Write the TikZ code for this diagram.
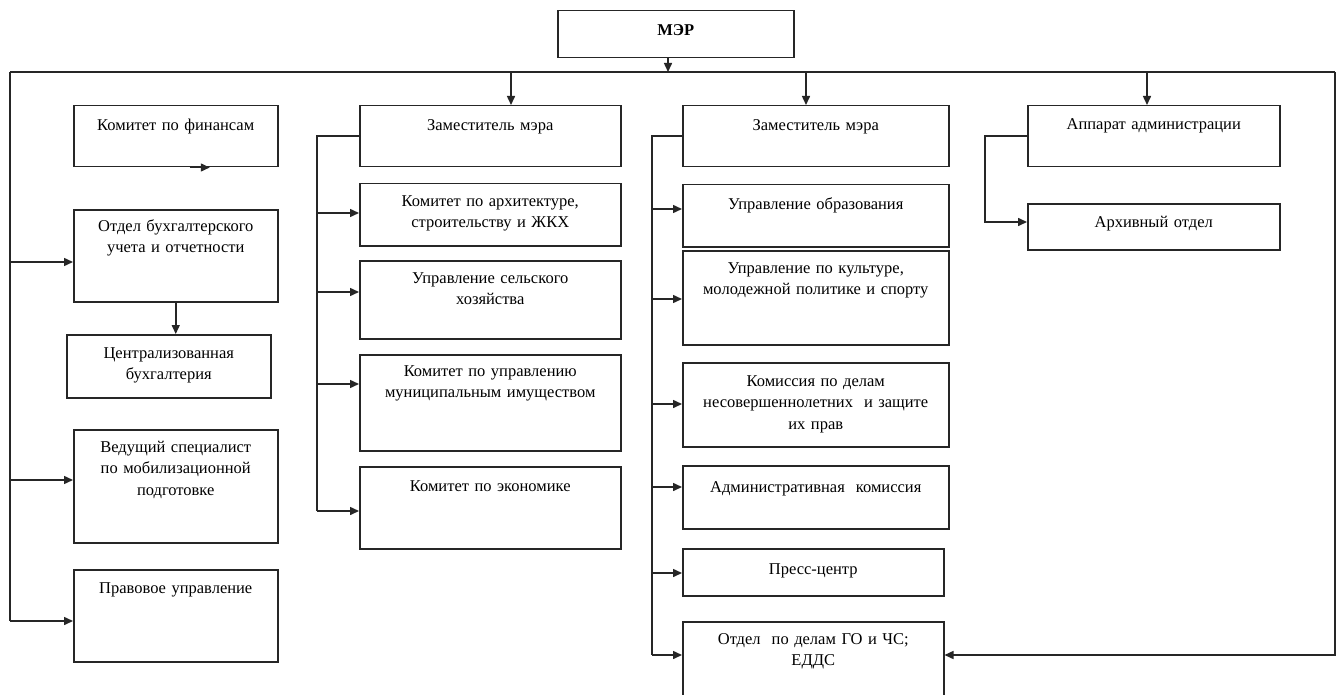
\documentclass[tikz,border=0pt]{standalone}
\usepackage{fontspec}
\setmainfont{Liberation Serif}
\usetikzlibrary{arrows.meta}
\tikzset{
  box/.style={draw=black!85, line width=1.5pt, rectangle, inner sep=0pt},
  lbl/.style={inner sep=0pt, align=center, text width=256pt, font=\fontsize{16.5}{21.5}\selectfont},
  arr/.style={draw=black!85, line width=1.5pt, -{Triangle[length=9pt,width=8pt]}},
  ln/.style={draw=black!85, line width=1.5pt}
}
\newcommand\orgbox[7]{%
  \node[box, minimum width=#4pt-#2pt, minimum height=#5pt-#3pt, anchor=north west] (#1) at (#2,#3) {};
  \node[lbl, anchor=base] at ([yshift=-#6pt]#1.north) {#7};
}
\begin{document}
\begin{tikzpicture}[x=1pt,y=-1pt]
\useasboundingbox[fill=white] (0,0) rectangle (1343,695);
% boxes
\orgbox{mer}{557}{10}{793}{57}{26}{\textbf{МЭР}}
\orgbox{fin}{73}{105}{277}{166}{26}{Комитет по финансам}
\orgbox{otd}{73}{209}{277}{301}{22}{Отдел бухгалтерского\\учета и отчетности}
\orgbox{cen}{66}{334}{270}{397}{24}{Централизованная\\бухгалтерия}
\orgbox{ved}{73}{429}{277}{542}{23}{Ведущий специалист\\по мобилизационной\\подготовке}
\orgbox{prav}{73}{569}{277}{661}{24}{Правовое управление}
\orgbox{zamA}{359}{105}{620}{166}{26}{Заместитель мэра}
\orgbox{arch}{359}{183}{620}{245}{23}{Комитет по архитектуре,\\строительству и ЖКХ}
\orgbox{sel}{359}{260}{620}{338}{23}{Управление сельского\\хозяйства}
\orgbox{mun}{359}{354}{620}{450}{22}{Комитет по управлению\\муниципальным имуществом}
\orgbox{eco}{359}{466}{620}{548}{25}{Комитет по экономике}
\orgbox{zamB}{682}{105}{948}{166}{26}{Заместитель мэра}
\orgbox{obr}{682}{184}{948}{246}{25}{Управление образования}
\orgbox{kul}{682}{250}{948}{344}{23}{Управление по культуре,\\молодежной политике и спорту}
\orgbox{kom}{682}{362}{948}{446}{24}{Комиссия по делам\\несовершеннолетних \ и защите\\их прав}
\orgbox{adm}{682}{465}{948}{528}{27}{Административная \ комиссия}
\orgbox{press}{682}{548}{943}{595}{26}{Пресс-центр}
\orgbox{go}{682}{621}{943}{705}{23}{Отдел \ по делам ГО и ЧС;\\ЕДДС}
\orgbox{app}{1027}{105}{1279}{166}{25}{Аппарат администрации}
\orgbox{arh}{1027}{203}{1279}{249}{24}{Архивный отдел}
% bus
\coordinate (busL) at (10,72);
\coordinate (busR) at (1335,72);
\coordinate (tM) at (668,72);
\coordinate (tA) at (511,72);
\coordinate (tB) at (806,72);
\coordinate (tC) at (1147,72);
\draw[ln] (busL) -- (busR);
\draw[arr] (mer.south -| tM) -- (tM);
\draw[arr] (tA) -- (tA |- zamA.north);
\draw[arr] (tB) -- (tB |- zamB.north);
\draw[arr] (tC) -- (tC |- app.north);
% left spine
\coordinate (L1) at (10,262);
\coordinate (L2) at (10,480);
\coordinate (L3) at (10,621);
\draw[ln] (busL) -- (L3);
\draw[arr] (L1) -- (L1 -| otd.west);
\draw[arr] (L2) -- (L2 -| ved.west);
\draw[arr] (L3) -- (L3 -| prav.west);
\draw[arr] (otd.south) -- (otd.south |- cen.north);
\draw[arr] ([xshift=14pt]fin.south) -- ([xshift=34pt]fin.south);
% middle spine
\coordinate (M1) at (317,213);
\coordinate (M2) at (317,292);
\coordinate (M3) at (317,384);
\coordinate (M4) at (317,511);
\draw[ln] (zamA.west) -| (M4);
\draw[arr] (M1) -- (M1 -| arch.west);
\draw[arr] (M2) -- (M2 -| sel.west);
\draw[arr] (M3) -- (M3 -| mun.west);
\draw[arr] (M4) -- (M4 -| eco.west);
% third spine
\coordinate (N1) at (652,209);
\coordinate (N2) at (652,299);
\coordinate (N3) at (652,404);
\coordinate (N4) at (652,487);
\coordinate (N5) at (652,573);
\coordinate (N6) at (652,655);
\draw[ln] (zamB.west) -| (N6);
\draw[arr] (N1) -- (N1 -| obr.west);
\draw[arr] (N2) -- (N2 -| kul.west);
\draw[arr] (N3) -- (N3 -| kom.west);
\draw[arr] (N4) -- (N4 -| adm.west);
\draw[arr] (N5) -- (N5 -| press.west);
\draw[arr] (N6) -- (N6 -| go.west);
% right spine
\coordinate (R1) at (1335,655);
\draw[arr] (busR) -- (R1) -- (R1 -| go.east);
% fourth column
\coordinate (A1) at (985,222);
\draw[arr] (app.west) -| (A1) -- (A1 -| arh.west);
\end{tikzpicture}
\end{document}
